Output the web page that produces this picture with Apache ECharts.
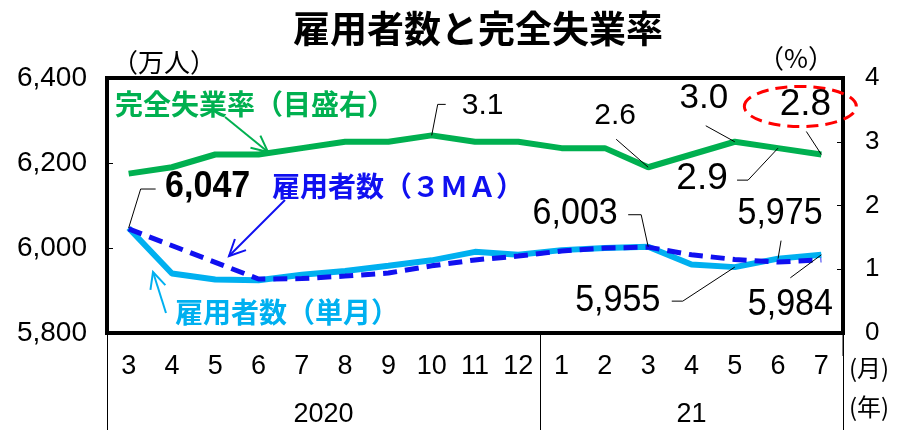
<!DOCTYPE html>
<html>
<head>
<meta charset="utf-8">
<script src="https://cdn.jsdelivr.net/npm/echarts@6/dist/echarts.min.js"></script>
<style>
html,body{margin:0;padding:0;background:#fff;}
#main{width:899px;height:430px;}
</style>
</head>
<body>
<div id="main"></div>
<script>
// 月（2020/3 ～ 2021/7）
var months = ['3','4','5','6','7','8','9','10','11','12','1','2','3','4','5','6','7'];
// 完全失業率（%）
var rate = [2.5,2.6,2.8,2.8,2.9,3.0,3.0,3.1,3.0,3.0,2.9,2.9,2.6,2.8,3.0,2.9,2.8];
// 雇用者数（単月, 万人）
var empMonthly = [6047,5940,5926,5924,5937,5946,5958,5971,5991,5984,5995,6000,6003,5961,5955,5975,5984];
// 雇用者数（3MA, 万人）
var empMA = [6045,null,null,5927,5928,5934,5941,5958,5972,5981,5993,6000,6002,5984,5973,5967,5972];
// 年ラベル
var yearLabels = {5:'2020', 13.5:'21'};

var NUM_FONT = "'Liberation Sans','Noto Sans CJK JP'";
var JP_FONT = "'Noto Sans CJK JP'";
var GREEN = '#00b050', LBLUE = '#00b0f0', BLUE = '#1010f0';

function fmt(v){ return String(v).replace(/\B(?=(\d{3})+(?!\d))/g, ','); }

var chart = echarts.init(document.getElementById('main'));

var option = {
    animation: false,
    title: {
        text: '雇用者数と完全失業率',
        left: 288, top: 5,
        textStyle: {fontFamily: JP_FONT, fontSize: 37, fontWeight: 'bold', color: '#000'}
    },
    grid: {left: 107, right: 56, top: 78, height: 255, show: true, borderColor: '#000', borderWidth: 4},
    xAxis: [{
        type: 'category',
        data: months,
        boundaryGap: true,
        axisLine: {lineStyle: {color: '#000', width: 4}},
        axisTick: {
            show: true, length: 97,
            interval: function(i){ return i === 0 || i === 10; },
            lineStyle: {color: '#000', width: 1}
        },
        axisLabel: {margin: 20, interval: 0, color: '#000', fontSize: 27, fontFamily: NUM_FONT}
    }, {
        type: 'value', position: 'bottom', min: 0, max: 17, interval: 0.5,
        axisLine: {show: false}, axisTick: {show: false}, splitLine: {show: false},
        axisLabel: {
            margin: 68, color: '#000', fontSize: 27, fontFamily: NUM_FONT,
            formatter: function(v){ return yearLabels[v] || ''; }
        }
    }],
    yAxis: [{
        type: 'value', min: 5800, max: 6400, interval: 200,
        axisLine: {show: true, lineStyle: {color: '#000', width: 4}},
        axisTick: {show: true, inside: true, length: 6, lineStyle: {color: '#000', width: 1}},
        splitLine: {show: false},
        axisLabel: {margin: 20, color: '#000', fontSize: 28, fontFamily: NUM_FONT, formatter: fmt}
    }, {
        type: 'value', min: 0, max: 4, interval: 1, position: 'right',
        axisLine: {show: true, lineStyle: {color: '#000', width: 4}},
        axisTick: {show: true, inside: true, length: 6, lineStyle: {color: '#000', width: 1}},
        splitLine: {show: false},
        axisLabel: {margin: 22, color: '#000', fontSize: 26, fontFamily: NUM_FONT}
    }],
    series: [{
        name: '完全失業率', type: 'line', yAxisIndex: 1, data: rate,
        symbol: 'none', lineStyle: {color: GREEN, width: 6}, z: 3
    }, {
        name: '雇用者数（単月）', type: 'line', yAxisIndex: 0, data: empMonthly,
        symbol: 'none', lineStyle: {color: LBLUE, width: 6}, z: 3
    }, {
        name: '雇用者数（３ＭＡ）', type: 'line', yAxisIndex: 0, data: empMA, connectNulls: true,
        symbol: 'none', lineStyle: {color: BLUE, width: 5, type: [14, 8]}, z: 4
    }]
};
chart.setOption(option);

// 注記（データ点からの相対位置）
var notes = [
    {ser: 1, i: 0, tx: 79, ty: -41, line: [[12,-39],[27,-39]], size: 37, sx: 0.92, bold: true},
    {ser: 0, i: 7, tx: 51, ty: -30, line: [[6,-31],[14,-31]], size: 30, sx: 1},
    {ser: 0, i: 12, tx: -33, ty: -52, line: [[-32,-28]], size: 30, sx: 1},
    {ser: 0, i: 14, tx: -31, ty: -43, line: [[-29,-16]], size: 35, sx: 1},
    {ser: 0, i: 16, tx: -16, ty: -50, line: [[-15,-23]], size: 37, sx: 1},
    {ser: 0, i: 15, tx: -76, ty: 31, line: [[-30,32],[-41,32]], size: 37, sx: 1},
    {ser: 1, i: 12, tx: -73, ty: -33, line: [[-7,-32],[-20,-32]], size: 37, sx: 0.92},
    {ser: 1, i: 15, tx: 2, ty: -45, line: [[3,-18]], size: 37, sx: 0.92},
    {ser: 1, i: 14, tx: -117, ty: 34, line: [[-52,34],[-63,34]], size: 37, sx: 0.92},
    {ser: 1, i: 16, tx: -31, ty: 50, line: [[-31,23]], size: 37, sx: 0.92}
];

function arrow(x1, y1, x2, y2, color){
    var a = Math.atan2(y2 - y1, x2 - x1), L = 18, w = 0.45;
    return [{
        type: 'line', shape: {x1: x1, y1: y1, x2: x2, y2: y2},
        style: {stroke: color, lineWidth: 2}
    }, {
        type: 'polyline',
        shape: {points: [
            [x2 - L * Math.cos(a - w), y2 - L * Math.sin(a - w)],
            [x2, y2],
            [x2 - L * Math.cos(a + w), y2 - L * Math.sin(a + w)]
        ]},
        style: {stroke: color, lineWidth: 2, fill: null}
    }];
}

var g = [];
notes.forEach(function(n){
    var src = n.ser === 0 ? rate : empMonthly;
    var p = chart.convertToPixel({seriesIndex: n.ser}, [n.i, src[n.i]]);
    var pts = [[p[0], p[1]]];
    n.line.forEach(function(d){ pts.push([p[0] + d[0], p[1] + d[1]]); });
    g.push({type: 'polyline', shape: {points: pts}, style: {stroke: '#000', lineWidth: 1, fill: null}, z: 10});
    var txt = n.ser === 0 ? src[n.i].toFixed(1) : fmt(src[n.i]);
    g.push({
        type: 'text', x: p[0] + n.tx, y: p[1] + n.ty, scaleX: n.sx, z: 10,
        style: {text: txt, fill: '#000', fontSize: n.size, fontFamily: NUM_FONT,
                fontWeight: n.bold ? 'bold' : 'normal', align: 'center', verticalAlign: 'middle'}
    });
});

// 赤い破線の楕円（最新値）
var pe = chart.convertToPixel({seriesIndex: 0}, [16, rate[16]]);
g.push({
    type: 'ellipse', shape: {cx: pe[0] - 21, cy: pe[1] - 48, rx: 56, ry: 20}, z: 9,
    style: {fill: null, stroke: '#ff0000', lineWidth: 3, lineDash: [12, 7]}
});

// 系列名と矢印
g.push({type: 'text', x: 115, y: 104, style: {text: '完全失業率（目盛右）', fill: GREEN, fontSize: 28, fontWeight: 'bold', fontFamily: JP_FONT, verticalAlign: 'middle'}});
g.push({type: 'text', x: 272, y: 186, style: {text: '雇用者数（３ＭＡ）', fill: BLUE, fontSize: 28, fontWeight: 'bold', fontFamily: JP_FONT, verticalAlign: 'middle'}});
g.push({type: 'text', x: 175, y: 312, style: {text: '雇用者数（単月）', fill: LBLUE, fontSize: 28, fontWeight: 'bold', fontFamily: JP_FONT, verticalAlign: 'middle'}});
g = g.concat(arrow(225, 117, 268, 152, GREEN));
g = g.concat(arrow(285, 200, 229, 256, BLUE));
g = g.concat(arrow(166, 313, 153, 272, LBLUE));

// 軸の単位
g.push({type: 'text', x: 112, y: 62, style: {text: '（万人）', fill: '#000', fontSize: 26, fontFamily: JP_FONT, verticalAlign: 'middle'}});
g.push({type: 'text', x: 834, y: 58, style: {text: '（%）', fill: '#000', fontSize: 26, fontFamily: JP_FONT, align: 'right', verticalAlign: 'middle'}});

// 月・年の単位と右端の区切り線
var pr = chart.convertToPixel({xAxisIndex: 1}, 17);
g.push({type: 'line', shape: {x1: pr, y1: 333, x2: pr, y2: 356}, style: {stroke: '#000', lineWidth: 1}});
g.push({type: 'text', x: 849, y: 368, style: {text: '(月)', fill: '#000', fontSize: 24, fontFamily: JP_FONT, verticalAlign: 'middle'}});
g.push({type: 'text', x: 849, y: 407, style: {text: '(年)', fill: '#000', fontSize: 24, fontFamily: JP_FONT, verticalAlign: 'middle'}});

chart.setOption({graphic: g});
</script>
</body>
</html>
